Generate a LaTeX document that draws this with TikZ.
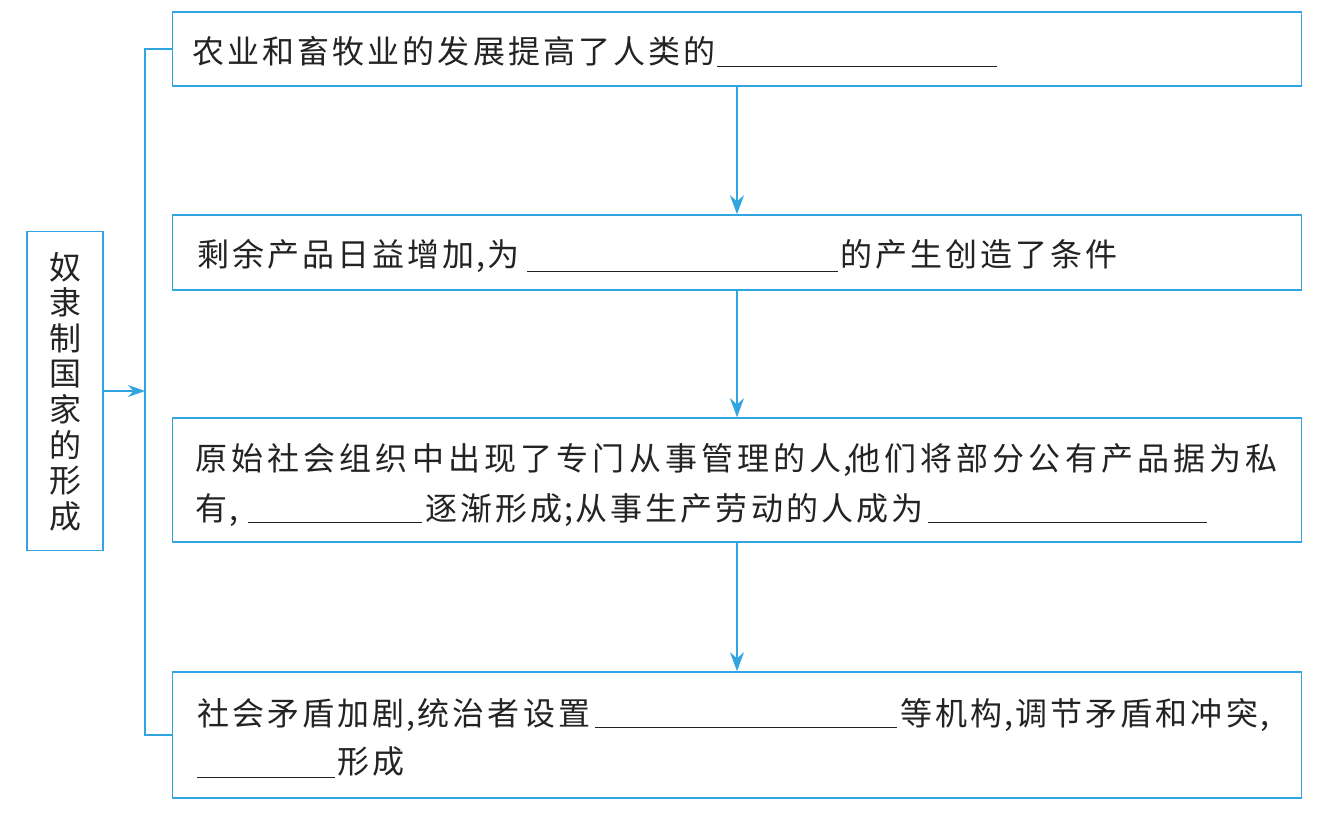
\documentclass[tikz,border=0pt]{standalone}
\usepackage{fontspec}
\usetikzlibrary{arrows.meta}
\newfontfamily\cjk{Noto Sans CJK SC}[LetterSpace=9.7]
\newfontfamily\cjkw{Noto Sans CJK SC}[LetterSpace=13]
\newfontfamily\cjkp{Noto Sans CJK SC}
\definecolor{lineblue}{RGB}{50,165,225}
\definecolor{ink}{RGB}{35,35,35}
\newcommand\cma{\makebox[13pt][c]{\cjkp ,}}
\newcommand\smc{\makebox[13pt][c]{\cjkp ;}}
\tikzset{
  box/.style={draw=lineblue, line width=1.6pt, inner sep=0pt, minimum width=1129pt},
  txt/.style={anchor=base west, inner sep=0pt, text=ink, font=\cjk\fontsize{32}{36}\selectfont},
  txtw/.style={txt, font=\cjkw\fontsize{32}{36}\selectfont},
  arr/.style={draw=lineblue, line width=1.6pt, -{Stealth[length=19pt,width=14pt]}},
  conn/.style={draw=lineblue, line width=1.6pt},
  blank/.style={draw=ink, line width=0.9pt}
}
\begin{document}
\begin{tikzpicture}[x=1pt,y=-1pt]
\fill[white] (0,0) rectangle (1328,815);
\useasboundingbox (0,0) rectangle (1328,815);
% boxes
\node[box, minimum height=74pt] (b1) at (737,49) {};
\node[box, minimum height=75pt] (b2) at (737,252.5) {};
\node[box, minimum height=124pt] (b3) at (737,480) {};
\node[box, minimum height=126pt] (b4) at (737,735) {};
\node[box, minimum width=76pt, minimum height=319pt] (lb) at (65,391) {};
\node[inner sep=0pt, text=ink, font=\cjkp\fontsize{32}{35.6}\selectfont, align=center] (lt) at (65,391.5) {奴\\隶\\制\\国\\家\\的\\形\\成};
% connectors
\draw[arr] (b1.south) -- (b2.north);
\draw[arr] (b2.south) -- (b3.north);
\draw[arr] (b3.south) -- (b4.north);
\coordinate (bx) at (145,391);
\draw[conn] (b1.west) -| (bx) |- (b4.west);
\draw[arr, -{Stealth[length=17pt,width=12pt]}] (lb.east) -- (bx);
% box 1
\node[txt] (t1) at (192,63) {农业和畜牧业的发展提高了人类的};
\draw[blank] (717,66) -- (997,66);
% box 2
\node[txt] (t2a) at (197,266) {剩余产品日益增加\cma 为};
\draw[blank] (527,271) -- (838,271);
\node[txt] (t2b) at (840,266) {的产生创造了条件};
% box 3
\node[txtw] (t3a) at (195,470) {原始社会组织中出现了专门从事管理的人\cma};
\node[txtw] (t3b) at (848,470) {他们将部分公有产品据为私};
\node[txt] (t3c) at (195,520) {有\cma};
\draw[blank] (248,522) -- (422,522);
\node[txt] (t3d) at (425,520) {逐渐形成\smc 从事生产劳动的人成为};
\draw[blank] (928,522) -- (1207,522);
% box 4
\node[txt] (t4a) at (197,725) {社会矛盾加剧\cma 统治者设置};
\draw[blank] (595,727) -- (897,727);
\node[txt] (t4b) at (900,725) {等机构\cma 调节矛盾和冲突\cma};
\draw[blank] (197,777) -- (335,777);
\node[txt] (t4c) at (337,773) {形成};
\end{tikzpicture}
\end{document}
